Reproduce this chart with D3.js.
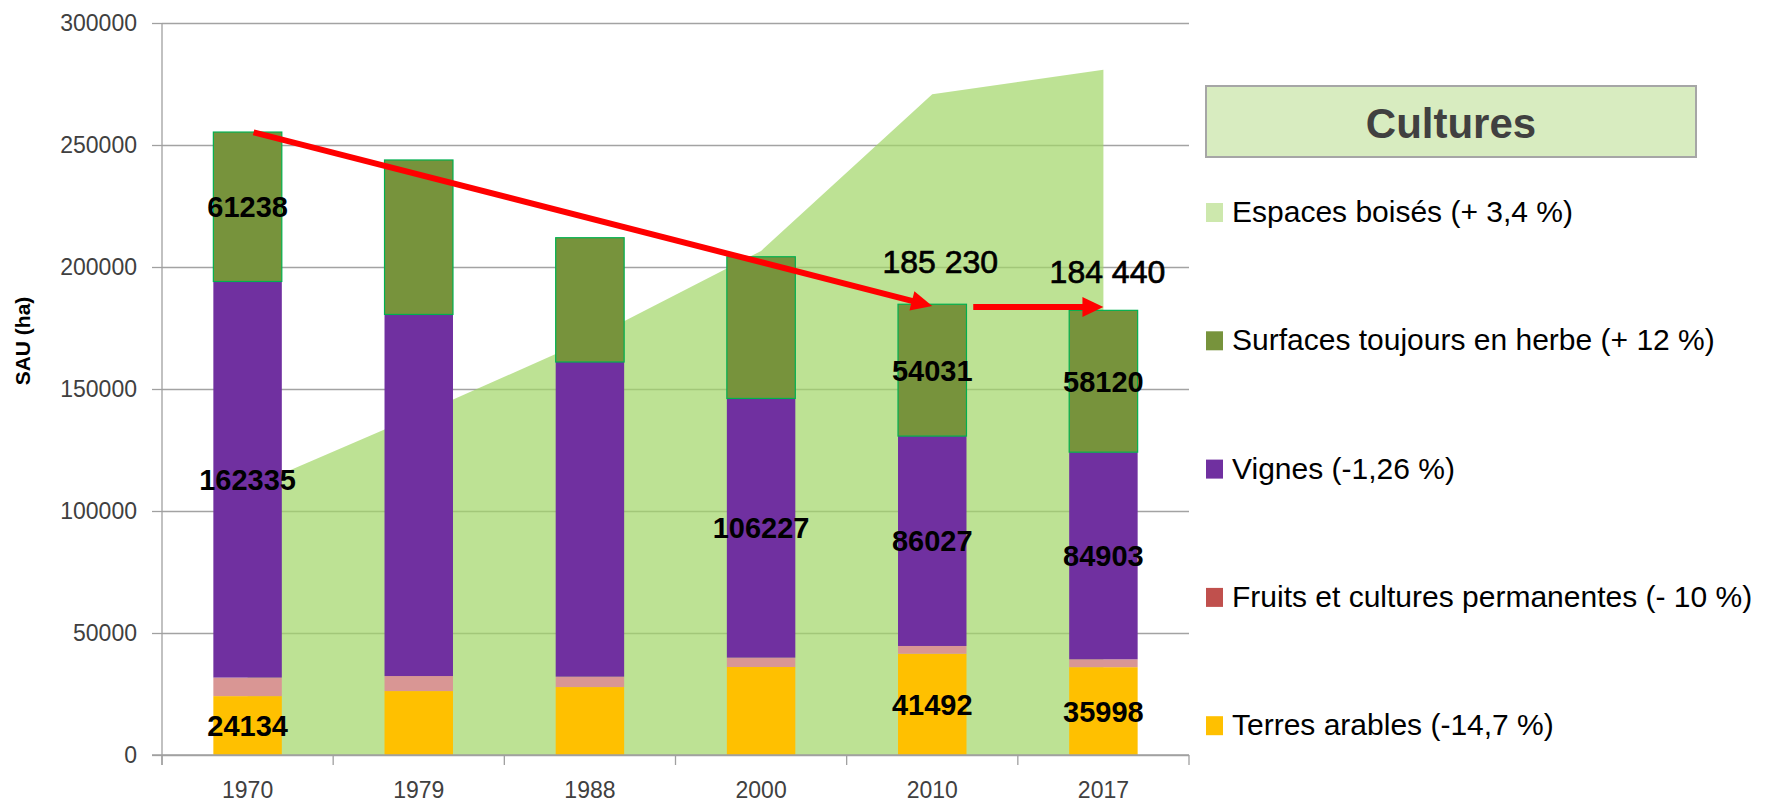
<!DOCTYPE html>
<html>
<head>
<meta charset="utf-8">
<script src="https://cdn.jsdelivr.net/npm/d3@7"></script>
<style>
  body { margin: 0; background: #fff; }
  text { font-family: "Liberation Sans", Arial, sans-serif; }
</style>
</head>
<body>
<div id="visualization"></div>
<script>
// Données (SAU en ha)
var annees = ["1970", "1979", "1988", "2000", "2010", "2017"];
var terresArables = [24134, 26200, 27840, 36060, 41492, 35998];
var fruits = [7600, 6160, 4260, 3840, 3190, 3220];
var vignes = [162335, 148200, 128970, 106227, 86027, 84903];
var surfacesHerbe = [61238, 63300, 50930, 58070, 54031, 58120];
var espacesBoises = [109200, 139400, 170600, 206600, 270800, 280800];
var yTicks = [0, 50000, 100000, 150000, 200000, 250000, 300000];

// étiquettes affichées sur les barres (null = pas d'étiquette)
var labelsArables = [24134, null, null, null, 41492, 35998];
var labelsVignes = [162335, null, null, 106227, 86027, 84903];
var labelsHerbe = [61238, null, null, null, 54031, 58120];

// totaux annotés et flèches
var totauxAnnees = ["2010", "2017"];
var totauxTextes = ["185 230", "184 440"];
var totauxValeurs = [185230, 184440];

var legendeNoms = [
  "Espaces boisés (+ 3,4 %)",
  "Surfaces toujours en herbe (+ 12 %)",
  "Vignes (-1,26 %)",
  "Fruits et cultures permanentes (- 10 %)",
  "Terres arables (-14,7 %)"
];
var legendeCouleurs = ["#cde8ad", "#77933c", "#7030a0", "#c0504d", "#ffc000"];

var width = 1776, height = 802;
// attention : "top" est réservé dans window, donc noms préfixés
var mLeft = 162, mRight = 1189, mTop = 23, mBottom = 755;

var svg = d3.select("#visualization")
  .append("svg")
  .attr("width", width)
  .attr("height", height);

var x = d3.scaleBand().domain(annees).range([mLeft, mRight]).padding(0);
var y = d3.scaleLinear().domain([0, 300000]).range([mBottom, mTop]);
var barW = x.bandwidth() * 0.4;
var cx = function(a) { return x(a) + x.bandwidth() / 2; };

// lignes de quadrillage
svg.append("g")
  .attr("transform", "translate(" + mLeft + ",0)")
  .call(d3.axisRight(y).tickValues(yTicks).tickSize(mRight - mLeft).tickFormat(""))
  .call(function(g) { g.select(".domain").remove(); })
  .selectAll("line")
  .attr("stroke", "#a3a3a3")
  .attr("stroke-width", 1.3);

// aire des espaces boisés
var aire = d3.area()
  .x(function(d, i) { return cx(annees[i]); })
  .y0(y(0))
  .y1(function(d) { return y(d); });

svg.append("path")
  .datum(espacesBoises)
  .attr("d", aire)
  .attr("fill", "#a1d666")
  .attr("fill-opacity", 0.7);

// barres empilées
var series = [
  { vals: terresArables, color: "#ffc000", stroke: "none" },
  { vals: fruits, color: "#d99694", stroke: "none" },
  { vals: vignes, color: "#7030a0", stroke: "none" },
  { vals: surfacesHerbe, color: "#77933c", stroke: "#00b050" }
];
var pile = annees.map(function() { return 0; });
var segments = [];
series.forEach(function(s, k) {
  annees.forEach(function(a, i) {
    segments.push({ annee: a, y0: pile[i], y1: pile[i] + s.vals[i], color: s.color, stroke: s.stroke, k: k, i: i });
    pile[i] += s.vals[i];
  });
});

svg.selectAll(".bar")
  .data(segments)
  .enter()
  .append("rect")
  .attr("class", "bar")
  .attr("x", function(d) { return x(d.annee) + (x.bandwidth() - barW) / 2; })
  .attr("width", barW)
  .attr("y", function(d) { return y(d.y1); })
  .attr("height", function(d) { return y(d.y0) - y(d.y1); })
  .attr("fill", function(d) { return d.color; })
  .attr("stroke", function(d) { return d.stroke; })
  .attr("stroke-width", 1.2);

// axes
var yAxis = svg.append("g")
  .attr("transform", "translate(" + mLeft + ",0)")
  .call(d3.axisLeft(y).tickValues(yTicks).tickSize(10).tickPadding(15).tickFormat(d3.format("d")));
yAxis.select(".domain").attr("d", "M0," + mTop + "V" + (mBottom + 10));
yAxis.selectAll("line, .domain").attr("stroke", "#a0a0a0").attr("stroke-width", 1.3);
yAxis.selectAll("text").attr("font-size", 23).attr("fill", "#404040");

var xAxis = svg.append("g")
  .attr("transform", "translate(0," + mBottom + ")")
  .call(d3.axisBottom(x).tickSize(0).tickPadding(27));
xAxis.select(".domain").attr("d", "M" + (mLeft - 10) + ",0H" + mRight).attr("stroke", "#a0a0a0").attr("stroke-width", 1.3);
xAxis.selectAll("text").attr("font-size", 23).attr("fill", "#404040");

// petites graduations entre les catégories
var bords = annees.map(function(a) { return x(a); }).concat([mRight]);
svg.selectAll(".xtick")
  .data(bords)
  .enter()
  .append("line")
  .attr("x1", function(d) { return d; })
  .attr("x2", function(d) { return d; })
  .attr("y1", mBottom)
  .attr("y2", mBottom + 10)
  .attr("stroke", "#a0a0a0")
  .attr("stroke-width", 1.3);

svg.append("text")
  .attr("transform", "translate(30,341) rotate(-90)")
  .attr("text-anchor", "middle")
  .attr("font-size", 21)
  .attr("font-weight", "bold")
  .text("SAU (ha)");

// étiquettes des valeurs
function etiquettes(labels, k) {
  var segs = segments.filter(function(d) { return d.k === k && labels[d.i] !== null; });
  svg.selectAll(".lab" + k)
    .data(segs)
    .enter()
    .append("text")
    .attr("x", function(d) { return cx(d.annee); })
    .attr("y", function(d) { return (y(d.y0) + y(d.y1)) / 2; })
    .attr("dy", "0.36em")
    .attr("text-anchor", "middle")
    .attr("font-size", 29)
    .attr("font-weight", "bold")
    .attr("fill", "#000")
    .text(function(d) { return labels[d.i]; });
}
etiquettes(labelsArables, 0);
etiquettes(labelsVignes, 2);
etiquettes(labelsHerbe, 3);

// flèches rouges
function fleche(x1, y1, x2, y2) {
  var ang = Math.atan2(y2 - y1, x2 - x1);
  var L = 21, W = 10;
  var bx = x2 - L * Math.cos(ang), by = y2 - L * Math.sin(ang);
  svg.append("line")
    .attr("x1", x1).attr("y1", y1)
    .attr("x2", bx + 2 * Math.cos(ang)).attr("y2", by + 2 * Math.sin(ang))
    .attr("stroke", "#ff0000")
    .attr("stroke-width", 6);
  svg.append("path")
    .attr("d", "M" + x2 + "," + y2 +
      "L" + (bx + W * Math.sin(ang)) + "," + (by - W * Math.cos(ang)) +
      "L" + (bx - W * Math.sin(ang)) + "," + (by + W * Math.cos(ang)) + "Z")
    .attr("fill", "#ff0000");
}
fleche(cx("1970") + 6, y(255200), cx("2010"), y(184000));
fleche(cx("2010") + 41, y(183600), cx("2017"), y(183600));

// totaux
svg.selectAll(".total")
  .data(totauxAnnees)
  .enter()
  .append("text")
  .attr("x", function(d, i) { return cx(d) + (i === 0 ? 8 : 4); })
  .attr("y", function(d, i) { return y(totauxValeurs[i]) - (i === 0 ? 30 : 22); })
  .attr("text-anchor", "middle")
  .attr("font-size", 32)
  .attr("fill", "#000")
  .attr("stroke", "#000")
  .attr("stroke-width", 0.7)
  .text(function(d, i) { return totauxTextes[i]; });

// légende
var leg = svg.append("g");
leg.append("rect")
  .attr("x", 1206).attr("y", 86)
  .attr("width", 490).attr("height", 71)
  .attr("fill", "#d8ecc0")
  .attr("stroke", "#a6a6a6")
  .attr("stroke-width", 2);
leg.append("text")
  .attr("x", 1451).attr("y", 138)
  .attr("text-anchor", "middle")
  .attr("font-size", 42)
  .attr("font-weight", "bold")
  .attr("fill", "#404040")
  .text("Cultures");

var items = leg.selectAll(".item")
  .data(legendeNoms)
  .enter()
  .append("g")
  .attr("transform", function(d, i) { return "translate(1206," + (203 + i * 128.3) + ")"; });
items.append("rect")
  .attr("width", 17).attr("height", 19)
  .attr("fill", function(d, i) { return legendeCouleurs[i]; });
items.append("text")
  .attr("x", 26).attr("y", 19)
  .attr("font-size", 30)
  .attr("fill", "#000")
  .text(function(d) { return d; });
</script>
</body>
</html>
